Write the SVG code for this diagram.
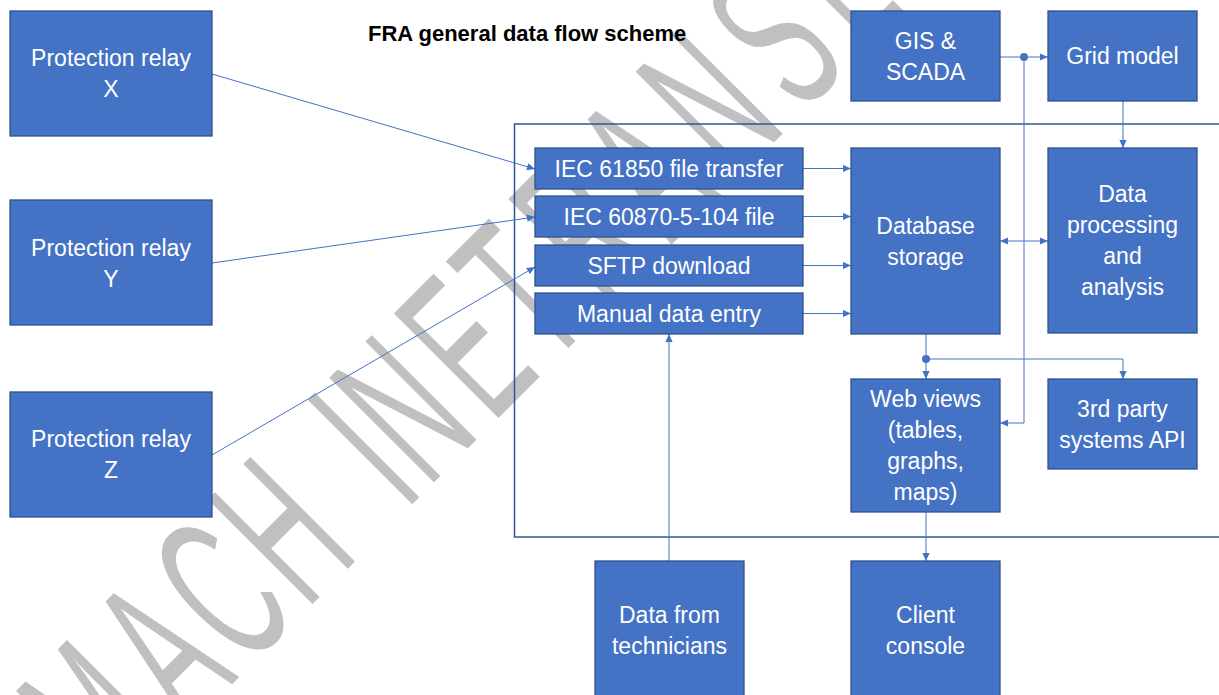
<svg xmlns="http://www.w3.org/2000/svg" width="1219" height="695" viewBox="0 0 1219 695">
  <defs>
    <style>
      .box { fill:#4472C4; stroke:#2F528F; stroke-width:1.3; }
      .lbl { font-family:"Liberation Sans", Arial, sans-serif; font-size:23px; fill:#FFFFFF; text-anchor:middle; }
      .conn { stroke:#4472C4; stroke-width:1; fill:none; }
      .title { font-family:"Liberation Sans", Arial, sans-serif; font-size:22px; font-weight:bold; fill:#000000; }
      .wm { font-family:"Liberation Sans", Arial, sans-serif; font-size:215px; fill:#C0C0C0; stroke:#FFFFFF; stroke-width:3; paint-order:stroke; }
    </style>
    <marker id="arr" viewBox="0 0 10 10" refX="10" refY="5" markerWidth="9" markerHeight="8" markerUnits="userSpaceOnUse" orient="auto-start-reverse">
      <path d="M0,0.5 L10,5 L0,9.5 z" fill="#4472C4"/>
    </marker>
  </defs>

  <g id="watermark">
    <text class="wm" transform="rotate(-45) scale(0.5,1)" y="648" x="-972 -762 -600 -430 -150 -86 96 300 256 420 602 780 970 1150">MACHINE TRANSL</text>
  </g>

  <g id="title">
    <text class="title" x="368" y="41">FRA general data flow scheme</text>
  </g>

  <g id="container">
    <path d="M1225,124 H514.5 V537 H1225" fill="none" stroke="#2F5597" stroke-width="1.5"/>
  </g>

  <g id="connectors">
    <line class="conn" x1="212" y1="74" x2="535" y2="169" marker-end="url(#arr)"/>
    <line class="conn" x1="212" y1="263" x2="535" y2="217" marker-end="url(#arr)"/>
    <line class="conn" x1="212" y1="455" x2="535" y2="267" marker-end="url(#arr)"/>
    <line class="conn" x1="803" y1="168.5" x2="851" y2="168.5" marker-end="url(#arr)"/>
    <line class="conn" x1="803" y1="216.5" x2="851" y2="216.5" marker-end="url(#arr)"/>
    <line class="conn" x1="803" y1="265.5" x2="851" y2="265.5" marker-end="url(#arr)"/>
    <line class="conn" x1="803" y1="313.5" x2="851" y2="313.5" marker-end="url(#arr)"/>
    <line class="conn" x1="1000" y1="57" x2="1048" y2="57" marker-end="url(#arr)"/>
    <circle cx="1024" cy="57" r="4" fill="#4472C4"/>
    <path class="conn" d="M1024,57 V423 H1000" marker-end="url(#arr)"/>
    <line class="conn" x1="1123" y1="101" x2="1123" y2="148" marker-end="url(#arr)"/>
    <line class="conn" x1="1000" y1="241" x2="1048" y2="241" marker-start="url(#arr)" marker-end="url(#arr)"/>
    <line class="conn" x1="926" y1="334" x2="926" y2="379" marker-end="url(#arr)"/>
    <circle cx="926" cy="359" r="4" fill="#4472C4"/>
    <path class="conn" d="M926,359 H1123 V379" marker-end="url(#arr)"/>
    <line class="conn" x1="926" y1="512" x2="926" y2="561" marker-end="url(#arr)"/>
    <line class="conn" x1="669" y1="561" x2="669" y2="334" marker-end="url(#arr)"/>
  </g>

  <g id="relay-x">
    <rect class="box" x="10" y="11" width="202" height="125"/>
    <text class="lbl" x="111" y="66">Protection relay</text>
    <text class="lbl" x="111" y="97">X</text>
  </g>
  <g id="relay-y">
    <rect class="box" x="10" y="200" width="202" height="125"/>
    <text class="lbl" x="111" y="256">Protection relay</text>
    <text class="lbl" x="111" y="287">Y</text>
  </g>
  <g id="relay-z">
    <rect class="box" x="10" y="392" width="202" height="125"/>
    <text class="lbl" x="111" y="447">Protection relay</text>
    <text class="lbl" x="111" y="478">Z</text>
  </g>

  <g id="iec61850">
    <rect class="box" x="535" y="148" width="268" height="41"/>
    <text class="lbl" x="669" y="176.5">IEC 61850 file transfer</text>
  </g>
  <g id="iec60870">
    <rect class="box" x="535" y="196" width="268" height="41"/>
    <text class="lbl" x="669" y="224.5">IEC 60870-5-104 file</text>
  </g>
  <g id="sftp">
    <rect class="box" x="535" y="245" width="268" height="41"/>
    <text class="lbl" x="669" y="273.5">SFTP download</text>
  </g>
  <g id="manual">
    <rect class="box" x="535" y="293" width="268" height="41"/>
    <text class="lbl" x="669" y="321.5">Manual data entry</text>
  </g>

  <g id="gis-scada">
    <rect class="box" x="851" y="11" width="149" height="90"/>
    <text class="lbl" x="925.5" y="48.5">GIS &amp;</text>
    <text class="lbl" x="925.5" y="79.5">SCADA</text>
  </g>
  <g id="grid-model">
    <rect class="box" x="1048" y="11" width="149" height="90"/>
    <text class="lbl" x="1122.5" y="64">Grid model</text>
  </g>

  <g id="database">
    <rect class="box" x="851" y="148" width="149" height="186"/>
    <text class="lbl" x="925.5" y="234">Database</text>
    <text class="lbl" x="925.5" y="265">storage</text>
  </g>
  <g id="processing">
    <rect class="box" x="1048" y="148" width="149" height="185"/>
    <text class="lbl" x="1122.5" y="202">Data</text>
    <text class="lbl" x="1122.5" y="233">processing</text>
    <text class="lbl" x="1122.5" y="264">and</text>
    <text class="lbl" x="1122.5" y="295">analysis</text>
  </g>

  <g id="web-views">
    <rect class="box" x="851" y="379" width="149" height="133"/>
    <text class="lbl" x="925.5" y="407">Web views</text>
    <text class="lbl" x="925.5" y="438">(tables,</text>
    <text class="lbl" x="925.5" y="469">graphs,</text>
    <text class="lbl" x="925.5" y="500">maps)</text>
  </g>
  <g id="third-party">
    <rect class="box" x="1048" y="379" width="149" height="90"/>
    <text class="lbl" x="1122.5" y="417">3rd party</text>
    <text class="lbl" x="1122.5" y="448">systems API</text>
  </g>

  <g id="technicians">
    <rect class="box" x="595" y="561" width="149" height="140"/>
    <text class="lbl" x="669.5" y="623">Data from</text>
    <text class="lbl" x="669.5" y="654">technicians</text>
  </g>
  <g id="client-console">
    <rect class="box" x="851" y="561" width="149" height="140"/>
    <text class="lbl" x="925.5" y="623">Client</text>
    <text class="lbl" x="925.5" y="654">console</text>
  </g>
</svg>
